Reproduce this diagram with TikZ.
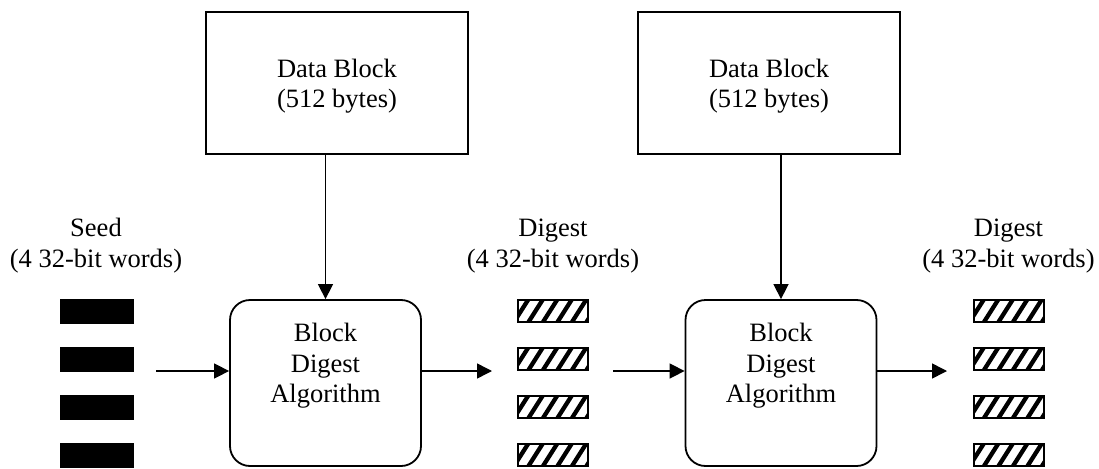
\documentclass[tikz,border=0pt]{standalone}
\usepackage{fontspec}
\setmainfont{Liberation Serif}
\usetikzlibrary{arrows.meta}
\begin{document}
\begin{tikzpicture}[x=1pt,y=-1pt,
  lbl/.style={align=center,inner sep=0pt,font=\fontsize{26.5}{30.5}\selectfont},
  databox/.style={draw,line width=2pt,minimum width=262pt,minimum height=142pt,inner sep=0pt},
  algbox/.style={draw,line width=1.8pt,rounded corners=20pt,minimum width=191pt,minimum height=166pt,inner sep=0pt},
  seedblk/.style={fill=black,minimum width=74pt,minimum height=25pt,inner sep=0pt},
  hatchblk/.style={draw,line width=2pt,minimum width=70pt,minimum height=22pt,inner sep=0pt,
    path picture={\foreach \k in {-2,...,6}
      \draw[line width=4.3pt] ([xshift=\k*14.5pt-4pt]path picture bounding box.south west) -- ++(14pt,22pt);}},
  arr/.style={line width=1.5pt,-{Triangle[length=15pt,width=15pt]}}
]
\useasboundingbox (0,0) rectangle (1099,468);
% data blocks
\node[databox] (db1) at (337,83) {};
\node[lbl] (db1t) at (337,86.3) {Data Block\\(512 bytes)};
\node[databox] (db2) at (769,83) {};
\node[lbl] (db2t) at (769,86.3) {Data Block\\(512 bytes)};
% algorithm boxes
\node[algbox] (bd1) at (325.5,383) {};
\node[lbl] (bd1t) at (325.5,366) {Block\\Digest\\Algorithm};
\node[algbox] (bd2) at (781,383) {};
\node[lbl] (bd2t) at (781,366) {Block\\Digest\\Algorithm};
% labels
\node[lbl] (seedt) at (96,245.8) {Seed\\(4 32-bit words)};
\node[lbl] (dg1t) at (553,245.8) {Digest\\(4 32-bit words)};
\node[lbl] (dg2t) at (1008.5,245.8) {Digest\\(4 32-bit words)};
% seed blocks
\node[seedblk] (s1) at (97,311.5) {};
\node[seedblk] (s2) at (97,359.5) {};
\node[seedblk] (s3) at (97,407.5) {};
\node[seedblk] (s4) at (97,455.5) {};
% digest blocks
\node[hatchblk] (a1) at (553,311) {};
\node[hatchblk] (a2) at (553,359) {};
\node[hatchblk] (a3) at (553,407) {};
\node[hatchblk] (a4) at (553,455) {};
\node[hatchblk] (b1) at (1008.5,311) {};
\node[hatchblk] (b2) at (1008.5,359) {};
\node[hatchblk] (b3) at (1008.5,407) {};
\node[hatchblk] (b4) at (1008.5,455) {};
% arrows
\coordinate (sa) at (156,371);
\coordinate (da) at (492,371);
\coordinate (ea) at (613,371);
\coordinate (fa) at (947,371);
\draw[arr] (sa) -- (sa -| bd1.west);
\draw[arr] (da -| bd1.east) -- (da);
\draw[arr] (ea) -- (ea -| bd2.west);
\draw[arr] (fa -| bd2.east) -- (fa);
\draw[arr] (bd1.north |- db1.south) -- (bd1.north);
\draw[arr] (bd2.north |- db2.south) -- (bd2.north);
\end{tikzpicture}
\end{document}
